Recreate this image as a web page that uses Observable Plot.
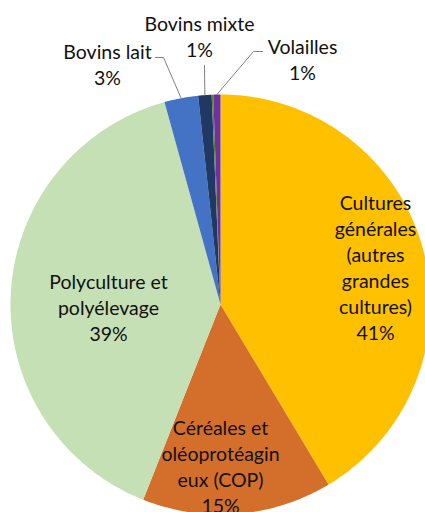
<!DOCTYPE html>
<html>
<head>
<meta charset="utf-8">
<script src="https://cdn.jsdelivr.net/npm/d3@7"></script>
<script src="https://cdn.jsdelivr.net/npm/@observablehq/plot@0.6"></script>
<style>
  html, body { margin: 0; padding: 0; background: #fff; overflow: hidden; }
  #chart svg { display: block; }
</style>
</head>
<body>
<div id="chart"></div>
<script>
// ---- data ----
const categories = [
  "Cultures générales (autres grandes cultures)",
  "Céréales et oléoprotéagineux (COP)",
  "Polyculture et polyélevage",
  "Bovins lait",
  "Bovins mixte",
  "Autres",
  "Volailles"
];
const values = [41.4, 14.6, 39.7, 2.6, 1.03, 0.12, 0.55];
const labelTexts = [
  "Cultures\ngénérales\n(autres\ngrandes\ncultures)\n41%",
  "Céréales et\noléoprotéagin\neux (COP)\n15%",
  "Polyculture et\npolyélevage\n39%",
  "Bovins lait\n3%",
  "Bovins mixte\n1%",
  null,
  "Volailles\n1%"
];
const colors = ["#FFC000", "#D46F2B", "#C5E0B4", "#4472C4", "#203864", "#548235", "#7030A0"];

// ---- layout (pixels relative to pie centre, y up) ----
const R = 210;
const labelPos = [
  {x: 155, y: 38},
  {x: 0, y: -161},
  {x: -112, y: -2},
  {x: -113, y: 241},
  {x: -21, y: 269},
  null,
  {x: 82, y: 246}
];
const leaderBends = [
  null, null, null,
  [[-65, 247], [-57, 247]],
  [[-16, 239]],
  null,
  [[42, 253], [33, 253]]
];

const arcs = d3.pie().sort(null).value(d => d)(values);

// slice outlines
const slicePts = [];
arcs.forEach((a, i) => {
  const cat = categories[i];
  slicePts.push({cat, x: 0, y: 0});
  const n = Math.max(2, Math.ceil((a.endAngle - a.startAngle) / 0.01));
  for (let k = 0; k <= n; k++) {
    const t = a.startAngle + (a.endAngle - a.startAngle) * k / n;
    slicePts.push({cat, x: R * Math.sin(t), y: R * Math.cos(t)});
  }
  slicePts.push({cat, x: 0, y: 0});
});

// leader lines
const leaderPts = [];
arcs.forEach((a, i) => {
  if (!leaderBends[i]) return;
  const mid = (a.startAngle + a.endAngle) / 2;
  leaderBends[i].forEach(([x, y]) => leaderPts.push({cat: categories[i], x, y}));
  leaderPts.push({cat: categories[i], x: R * Math.sin(mid), y: R * Math.cos(mid)});
});

const labels = categories.map((c, i) => labelTexts[i] ? {cat: c, text: labelTexts[i], ...labelPos[i]} : null).filter(d => d);

const chart = Plot.plot({
  width: 425,
  height: 512,
  margin: 0,
  style: {fontFamily: "Lato, 'Open Sans', sans-serif", background: "#fff", overflow: "hidden"},
  x: {domain: [-220, 205], axis: null},
  y: {domain: [-208, 304], axis: null},
  color: {domain: categories, range: colors},
  marks: [
    Plot.line(slicePts, {x: "x", y: "y", z: "cat", fill: "cat", stroke: "none", curve: "linear"}),
    Plot.line(leaderPts, {x: "x", y: "y", z: "cat", stroke: "#808080", strokeWidth: 1}),
    Plot.text(labels, {x: "x", y: "y", text: "text", fontSize: 19.5, lineHeight: 1.34, lineAnchor: "middle", textAnchor: "middle", fill: "#111"})
  ]
});
document.getElementById("chart").appendChild(chart);
</script>
</body>
</html>
